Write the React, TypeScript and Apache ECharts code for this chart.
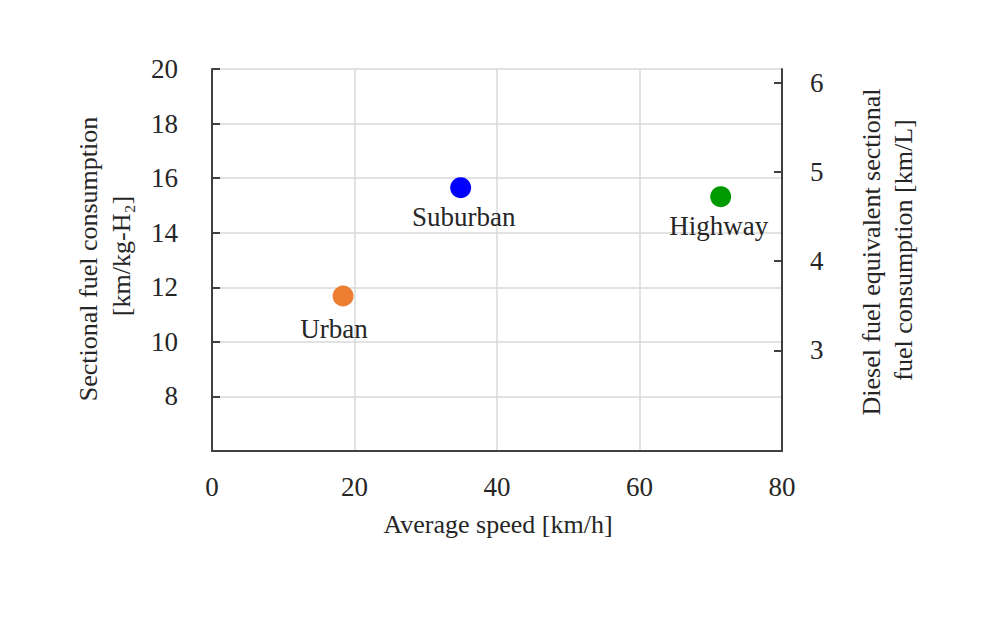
import React, { useEffect, useRef } from "react";
import * as echarts from "echarts";

const categories = ["Urban", "Suburban", "Highway"];
const averageSpeed = [18.4, 34.9, 71.4];
const fuelConsumption = [11.68, 15.65, 15.32];
const pointColors = ["#ED7D31", "#0000FF", "#009A00"];
const labelOffsets = [[-9, 4], [3, 0], [-2, 0]];
const xTicks = [0, 20, 40, 60, 80];
const rightTicks = [3, 4, 5, 6];

const FONT = "'Liberation Serif', 'Times New Roman', serif";
const TXT = "#262626";

export default function App() {
  const ref = useRef<HTMLDivElement>(null);
  useEffect(() => {
    if (!ref.current) return;
    const chart = echarts.init(ref.current, null, { renderer: "svg" });
    const data = categories.map((name, i) => ({
      name,
      value: [averageSpeed[i], fuelConsumption[i]],
      itemStyle: { color: pointColors[i], opacity: 1 },
      label: { offset: labelOffsets[i] },
    }));
    chart.setOption({
      animation: false,
      backgroundColor: "#ffffff",
      textStyle: { fontFamily: FONT },
      grid: { left: 212, right: 218, top: 69, bottom: 169, containLabel: false },
      xAxis: {
        type: "value",
        min: xTicks[0],
        max: xTicks[xTicks.length - 1],
        interval: 20,
        axisLine: { show: true, lineStyle: { color: "#404040", width: 2 } },
        axisTick: { show: false },
        splitLine: { show: true, lineStyle: { color: "#d9d9d9", width: 1.5 } },
        axisLabel: { fontSize: 27, color: TXT, margin: 22, fontFamily: FONT },
      },
      yAxis: [
        {
          type: "value",
          min: 6,
          max: 20,
          interval: 2,
          position: "left",
          axisLine: { show: true, lineStyle: { color: "#404040", width: 2 } },
          axisTick: { show: true, inside: true, length: 8, lineStyle: { color: "#404040", width: 2 } },
          splitLine: { show: true, lineStyle: { color: "#d9d9d9", width: 1.5 } },
          axisLabel: { fontSize: 27, color: TXT, margin: 34, showMinLabel: false, fontFamily: FONT },
        },
        {
          type: "value",
          min: 1.87,
          max: 6.155,
          position: "right",
          axisLine: { show: true, lineStyle: { color: "#404040", width: 2 } },
          axisTick: { show: true, inside: true, length: 8, customValues: rightTicks, lineStyle: { color: "#404040", width: 2 } },
          splitLine: { show: false },
          axisLabel: { fontSize: 27, color: TXT, margin: 28, customValues: rightTicks, fontFamily: FONT },
        },
      ],
      series: [
        {
          type: "scatter",
          yAxisIndex: 0,
          symbolSize: 21,
          itemStyle: { opacity: 1 },
          data,
          label: {
            show: true,
            position: "bottom",
            distance: 5,
            formatter: "{b}",
            fontSize: 27,
            color: TXT,
            fontFamily: FONT,
          },
        },
      ],
      graphic: [
        {
          type: "text",
          x: 498,
          y: 524,
          style: { text: "Average speed [km/h]", font: `26px ${FONT}`, fill: TXT, align: "center", verticalAlign: "middle" },
        },
        {
          type: "text",
          x: 88,
          y: 259,
          rotation: Math.PI / 2,
          style: { text: "Sectional fuel consumption", font: `26px ${FONT}`, fill: TXT, align: "center", verticalAlign: "middle" },
        },
        {
          type: "text",
          x: 121,
          y: 256,
          rotation: Math.PI / 2,
          style: { text: "[km/kg-H₂]", font: `26px ${FONT}`, fill: TXT, align: "center", verticalAlign: "middle" },
        },
        {
          type: "text",
          x: 871,
          y: 252,
          rotation: Math.PI / 2,
          style: { text: "Diesel fuel equivalent sectional", font: `26px ${FONT}`, fill: TXT, align: "center", verticalAlign: "middle" },
        },
        {
          type: "text",
          x: 903,
          y: 250,
          rotation: Math.PI / 2,
          style: { text: "fuel consumption [km/L]", font: `26px ${FONT}`, fill: TXT, align: "center", verticalAlign: "middle" },
        },
      ],
    });
    return () => chart.dispose();
  }, []);
  return (
    <div
      ref={ref}
      style={{ position: "absolute", left: 0, top: 0, width: 1000, height: 620, background: "#fff" }}
    />
  );
}
